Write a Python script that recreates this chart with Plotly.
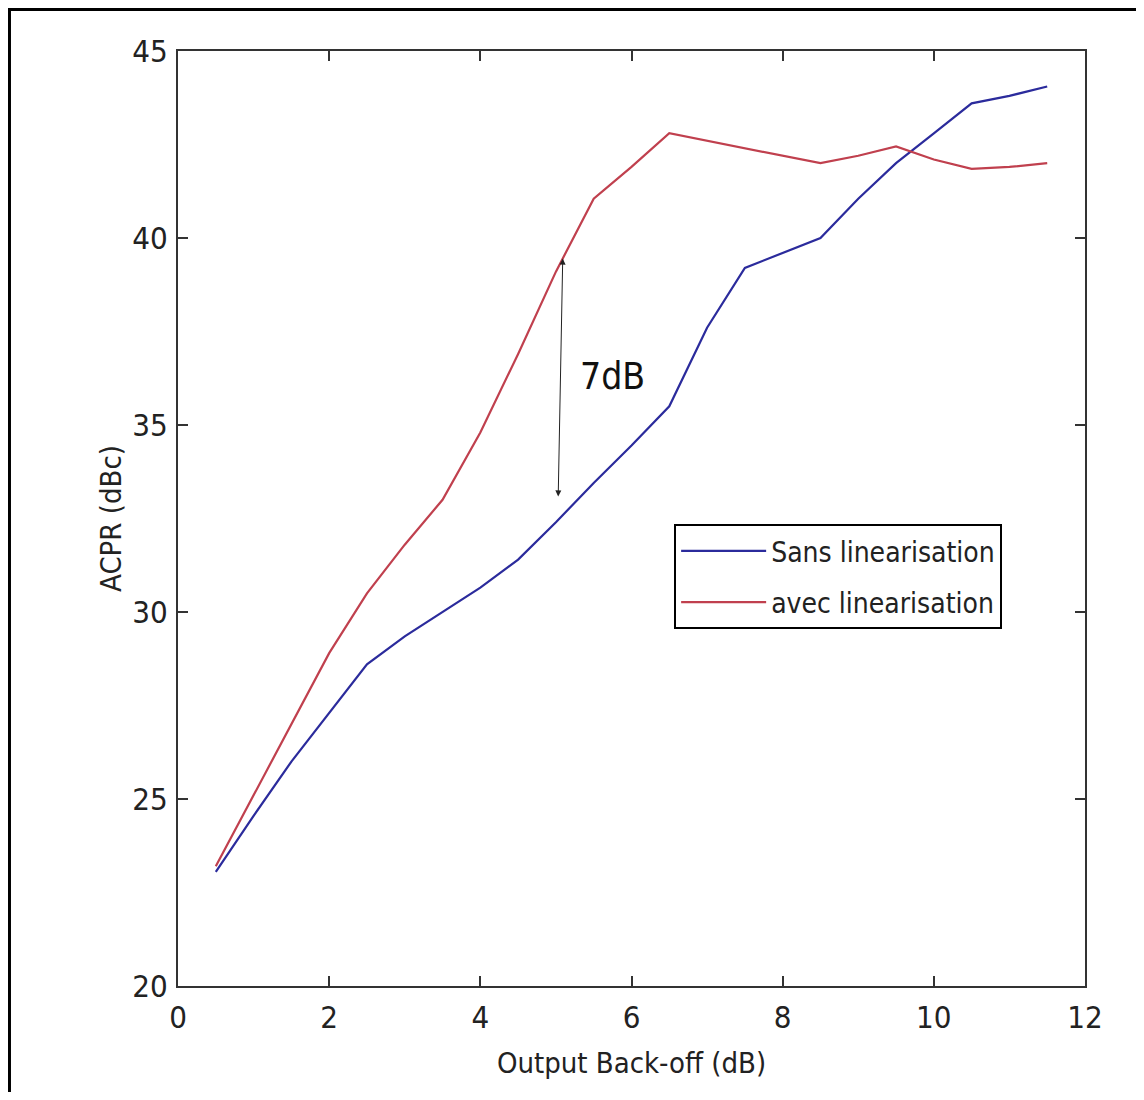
import plotly.graph_objects as go

# Output back-off (dB)
obo = [0.5, 1.0, 1.5, 2.0, 2.5, 3.0, 3.5, 4.0, 4.5, 5.0, 5.5, 6.0,
       6.5, 7.0, 7.5, 8.0, 8.5, 9.0, 9.5, 10.0, 10.5, 11.0, 11.5]

# ACPR (dBc)
acpr_sans = [23.05, 24.55, 26.0, 27.3, 28.6, 29.35, 30.0, 30.65, 31.4, 32.4,
             33.45, 34.45, 35.5, 37.6, 39.2, 39.6, 40.0, 41.05, 42.0, 42.8,
             43.6, 43.8, 44.05]
acpr_avec = [23.2, 25.1, 27.0, 28.9, 30.5, 31.8, 33.0, 34.8, 36.9, 39.1,
             41.05, 41.9, 42.8, 42.6, 42.4, 42.2, 42.0, 42.2, 42.45, 42.1,
             41.85, 41.9, 42.0]

x_ticks = [0, 2, 4, 6, 8, 10, 12]
y_ticks = [20, 25, 30, 35, 40, 45]

police = "Liberation Sans Narrow, DejaVu Sans Condensed, Liberation Sans, Arial"

fig = go.Figure()

fig.add_trace(go.Scatter(x=obo, y=acpr_sans, mode='lines',
                         line=dict(color='#2b2b9c', width=2.2),
                         name='Sans linearisation', legendgroup='sans'))
fig.add_trace(go.Scatter(x=obo, y=acpr_avec, mode='lines',
                         line=dict(color='#c0404e', width=2.2),
                         name='avec linearisation', legendgroup='avec'))

# fleche double 7dB
fig.add_annotation(x=5.09, y=39.45, ax=5.03, ay=33.05,
                   xref='x', yref='y', axref='x', ayref='y',
                   text='', showarrow=True, arrowhead=2, startarrowhead=2,
                   arrowside='end+start', arrowwidth=1, arrowsize=1.2,
                   startarrowsize=1.2, arrowcolor='#222')
fig.add_annotation(x=5.75, y=36.3, xref='x', yref='y', text='7dB',
                   showarrow=False,
                   font=dict(family=police, size=37, color='#111'))

# cadre exterieur (juste a l'interieur de la figure)
fig.add_shape(type='rect', xref='paper', yref='paper',
              x0=-0.1858, x1=1.0595, y0=-0.13, y1=1.0444,
              line=dict(color='black', width=3))

axe = dict(showgrid=False, zeroline=False, showline=True, mirror='ticks',
           linecolor='#333', linewidth=2, ticks='inside', ticklen=10,
           tickwidth=2, tickcolor='#333',
           tickfont=dict(family=police, size=31, color='#222'))

# la page ajoute 8px de marge au body
fig.update_layout(
    width=1136, height=1084,
    margin=dict(l=170, r=59, t=43, b=106),
    paper_bgcolor='white', plot_bgcolor='white',
    showlegend=True,
    legend=dict(x=0.547, y=0.494, xanchor='left', yanchor='top',
                bgcolor='white', bordercolor='black', borderwidth=2,
                font=dict(family=police, size=28, color='#222'),
                itemwidth=85, traceorder='grouped', tracegroupgap=12),
    xaxis=dict(range=[0, 12], tickvals=x_ticks, ticklabelstandoff=3,
               title=dict(text='Output Back-off (dB)', standoff=18,
                          font=dict(family=police, size=29, color='#222')),
               **axe),
    yaxis=dict(range=[20, 45], tickvals=y_ticks, ticklabelstandoff=2,
               title=dict(text='ACPR (dBc)', standoff=2,
                          font=dict(family=police, size=29, color='#222')),
               **axe),
)

fig.write_html("out.html")
